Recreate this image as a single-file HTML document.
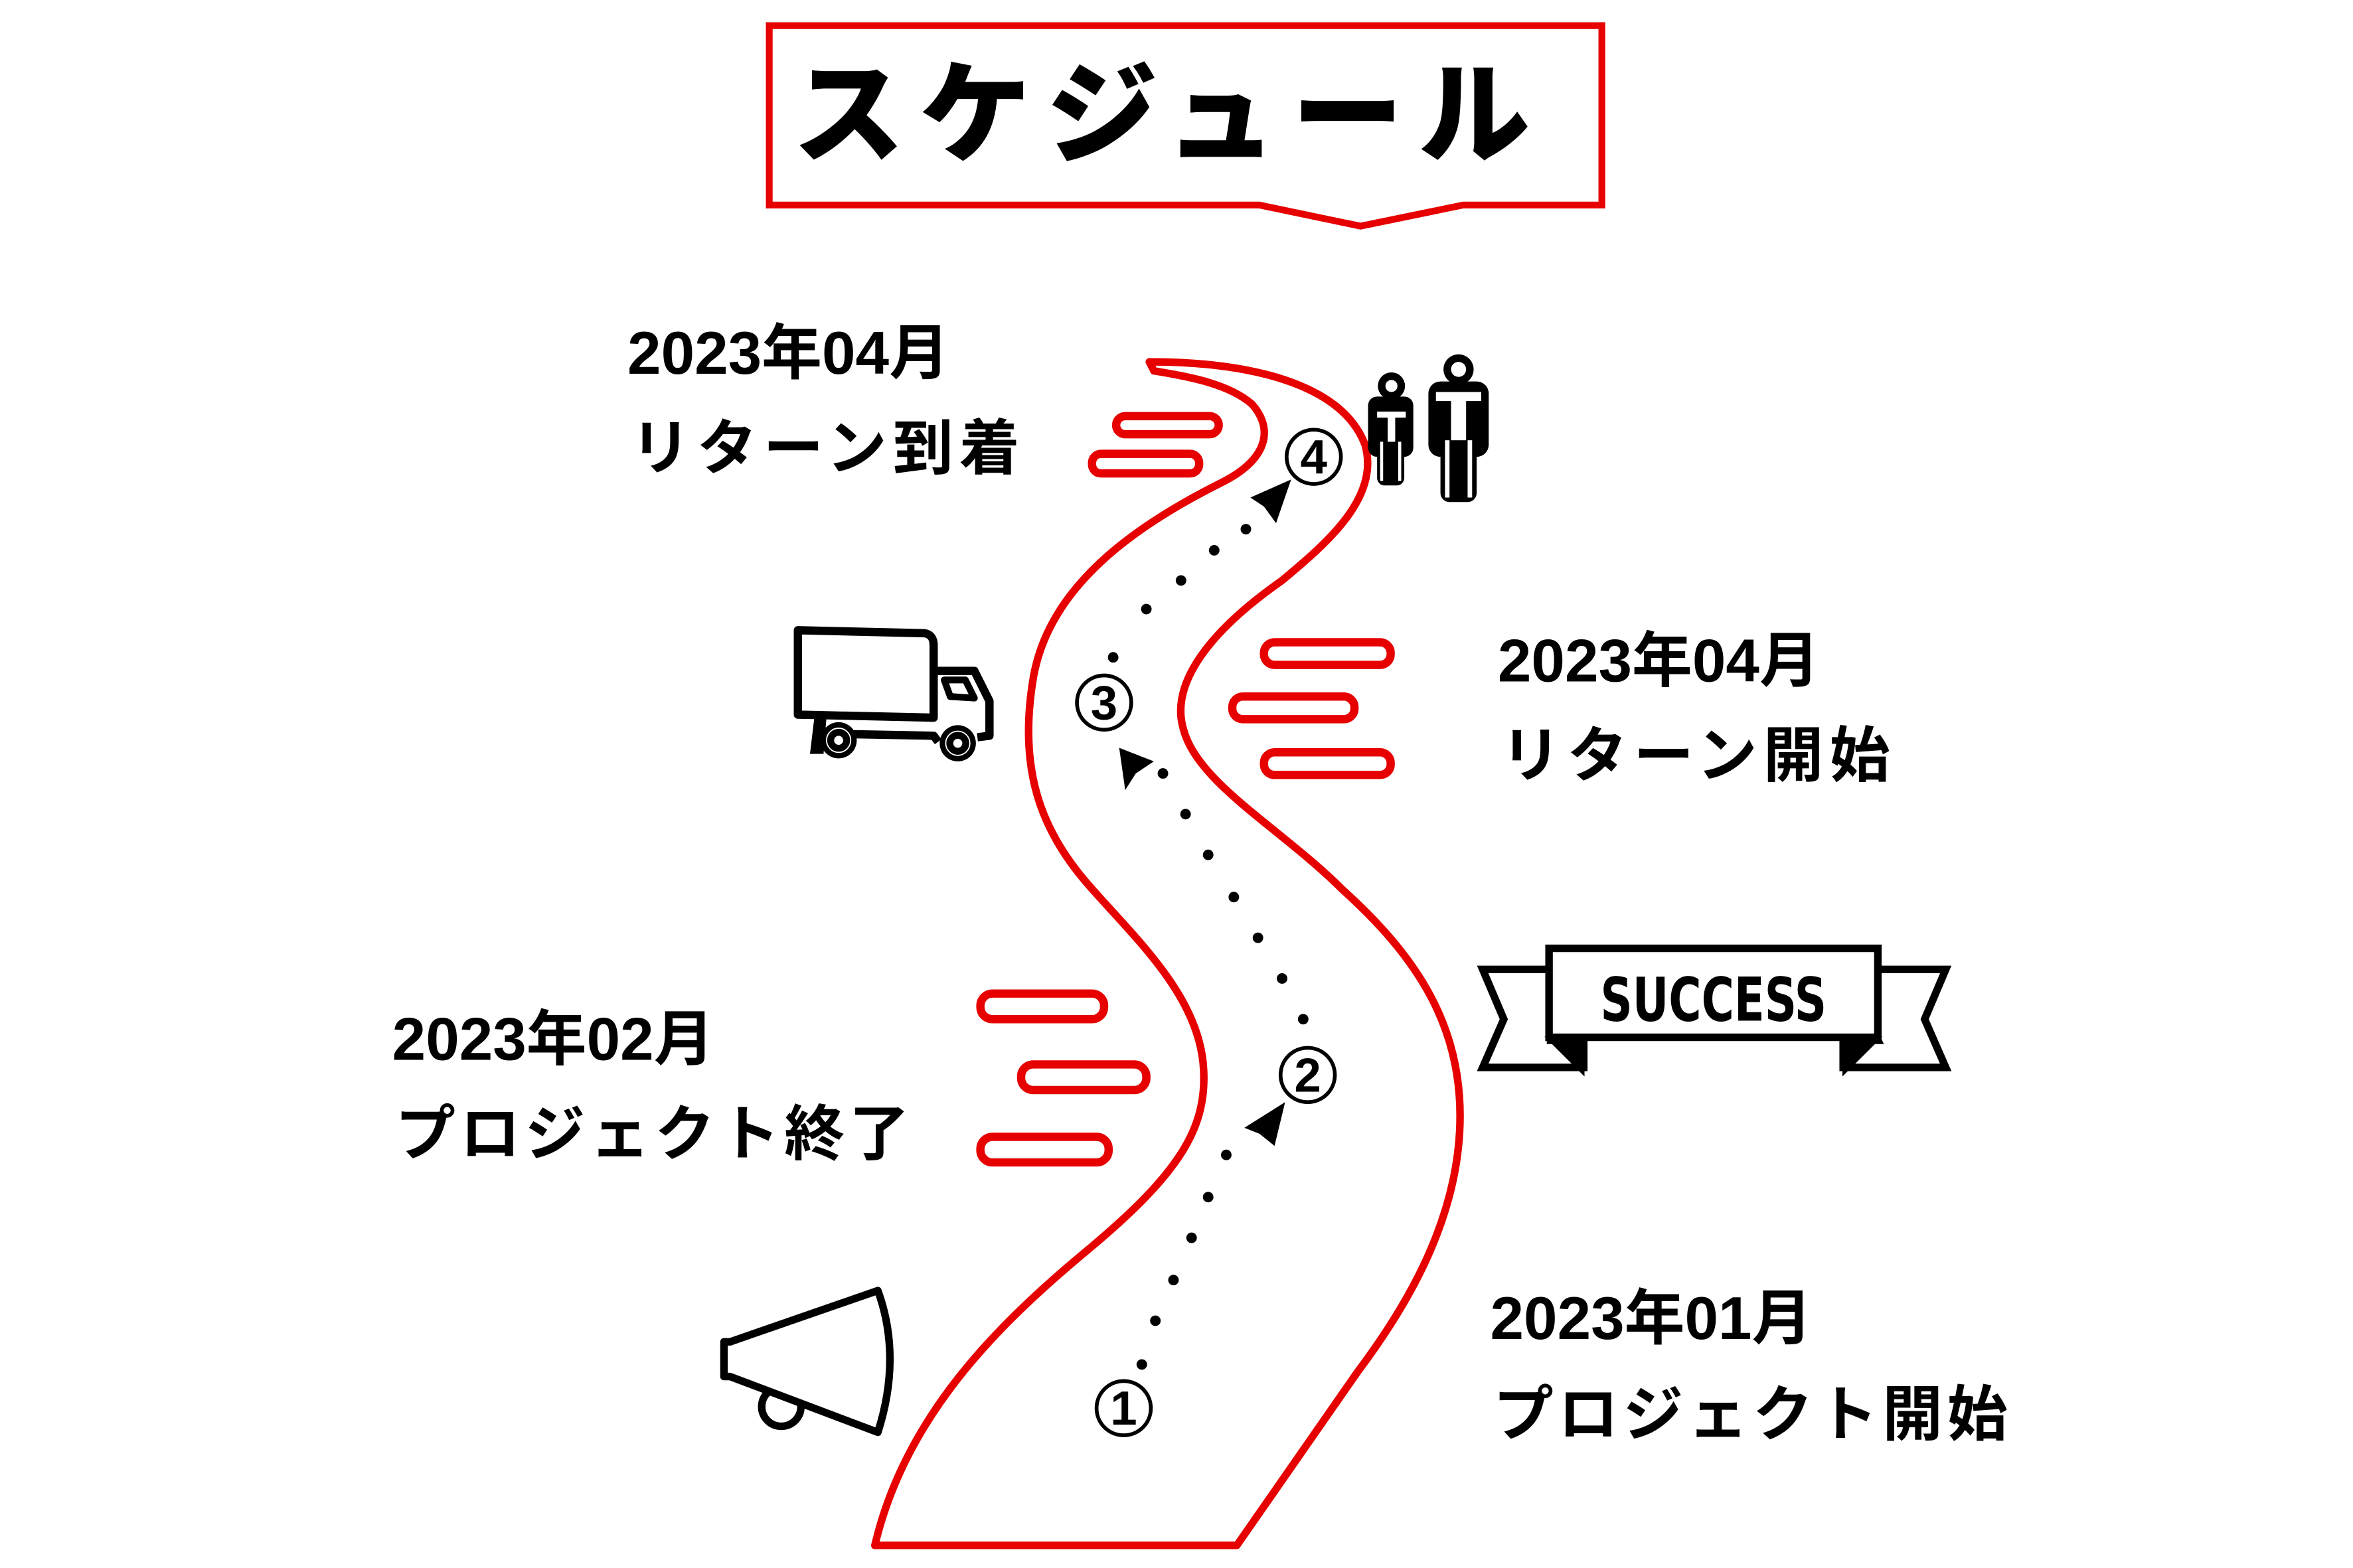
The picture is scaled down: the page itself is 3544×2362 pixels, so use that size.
<!DOCTYPE html>
<html><head><meta charset="utf-8"><style>
html,body{margin:0;padding:0;background:#fff;}
svg{display:block;}
.t{font-family:"Liberation Sans","Noto Sans CJK JP",sans-serif;font-weight:bold;fill:#000;}
</style></head><body>
<svg width="3544" height="2362" viewBox="0 0 1560 1040" preserveAspectRatio="none" xmlns="http://www.w3.org/2000/svg">
<rect width="1560" height="1040" fill="#fff"/>
<path d="M510,17 L1062,17 L1062,136 L970,136 L902,150 L835,136 L510,136 Z" fill="#fff" stroke="#e60000" stroke-width="4.5" stroke-linejoin="miter"/>
<text x="775" y="102" class="t" font-size="74" text-anchor="middle" letter-spacing="10" style="font-family:'Noto Sans CJK JP',sans-serif;font-weight:900">スケジュール</text>

<path d="M762,240 C830,240 890,255 905,295 C915,330 880,360 850,385 C800,420 775,455 785,485 C795,520 850,550 890,590 C940,635 968,680 968,740 C968,810 930,870 900,910 L820,1025 L580,1025 C600,940 660,880 720,830 C780,780 800,750 798,710 C796,660 750,620 720,585 C690,550 675,510 685,450 C695,390 750,350 810,320 C840,305 845,285 830,268 C815,255 790,250 765,246 Z" fill="#fff" stroke="#e60000" stroke-width="5" stroke-linejoin="round"/>

<g fill="#fff" stroke="#e60000" stroke-width="5.5">
<rect x="740" y="276" width="68" height="12" rx="6"/>
<rect x="724" y="301" width="71" height="13" rx="6"/>
<rect x="838" y="426" width="84" height="15" rx="7"/>
<rect x="817" y="462" width="81" height="15" rx="7"/>
<rect x="838" y="499" width="84" height="15" rx="7"/>
<rect x="650" y="659" width="82" height="17" rx="8"/>
<rect x="677" y="706" width="83" height="17" rx="8"/>
<rect x="650" y="754" width="85" height="17" rx="8"/>
</g>

<g fill="#000">
<circle cx="757" cy="905" r="3.5"/><circle cx="766" cy="876" r="3.5"/><circle cx="778" cy="849" r="3.5"/><circle cx="790" cy="821" r="3.5"/><circle cx="801" cy="794" r="3.5"/><circle cx="813" cy="766" r="3.5"/>
<path d="M852,731 L825,748 L835,752 L845,760 Z"/>
<circle cx="864" cy="676" r="3.5"/><circle cx="850" cy="649" r="3.5"/><circle cx="834" cy="622" r="3.5"/><circle cx="818" cy="595" r="3.5"/><circle cx="801" cy="567" r="3.5"/><circle cx="786" cy="540" r="3.5"/><circle cx="771" cy="513" r="3.5"/>
<path d="M742,496 L746,524 L753,513 L765,505 Z"/>
<circle cx="738" cy="436" r="3.5"/><circle cx="760" cy="404" r="3.5"/><circle cx="783" cy="385" r="3.5"/><circle cx="805" cy="365" r="3.5"/><circle cx="826" cy="351" r="3.5"/>
<path d="M856,318 L829,330 L838,336 L846,347 Z"/>
</g>

<g fill="#fff" stroke="#000" stroke-width="2.5">
<circle cx="745" cy="934" r="18"/><circle cx="867" cy="713" r="18"/><circle cx="732" cy="466" r="18"/><circle cx="871" cy="303" r="18"/>
</g>
<g class="t" font-size="32" text-anchor="middle">
<text x="745" y="945">1</text><text x="867" y="724">2</text><text x="732" y="477">3</text><text x="871" y="314">4</text>
</g>

<g class="t" font-size="40">
<text x="416" y="248">2023年04月</text>
<text x="418" y="311" letter-spacing="4">リターン到着</text>
<text x="993" y="452">2023年04月</text>
<text x="995" y="515" letter-spacing="4">リターン開始</text>
<text x="260" y="703">2023年02月</text>
<text x="262" y="766" letter-spacing="3">プロジェクト終了</text>
<text x="988" y="888">2023年01月</text>
<text x="990" y="952" letter-spacing="3">プロジェクト開始</text>
</g>

<g fill="#000">
<circle cx="922.5" cy="256" r="9"/>
<rect x="907" y="263" width="30" height="40" rx="6"/>
<rect x="913" y="285" width="18" height="37" rx="5"/>
<circle cx="967" cy="245" r="10"/>
<rect x="947" y="253" width="40" height="50" rx="8"/>
<rect x="955" y="285" width="24" height="48" rx="6"/>
</g>
<g fill="#fff">
<circle cx="922.5" cy="256" r="4"/>
<rect x="913" y="273" width="19" height="4"/><rect x="920" y="273" width="5" height="20"/>
<rect x="915" y="293" width="2" height="26"/><rect x="927" y="293" width="2" height="26"/>
<circle cx="967" cy="245" r="5"/>
<rect x="952" y="260" width="30" height="6"/><rect x="962" y="260" width="10" height="32"/>
<rect x="958" y="292" width="3" height="38"/><rect x="973" y="292" width="3" height="38"/>
</g>

<g fill="none" stroke="#000" stroke-width="5.5" stroke-linejoin="round">
<path d="M529,418 L613,420 Q619,421 619,428 L619,476 L529,474 Z"/>
<path d="M619,445 L646,445 L656,465 L656,488 L648,489"/>
<path d="M626,451 L640,451 L646,463 L630,462 Z" stroke-width="4.5"/>
<path d="M566,487 L619,488 L622,492"/>
</g>
<path d="M540,475 L548,475 L546,500 L537,500 Z" fill="#000"/>
<g fill="#000"><circle cx="556" cy="491" r="12"/><circle cx="635" cy="493" r="12"/></g>
<g fill="none" stroke="#fff" stroke-width="0.8"><circle cx="556" cy="491" r="8"/><circle cx="635" cy="493" r="8"/></g>
<g fill="#fff"><circle cx="556" cy="491" r="3"/><circle cx="635" cy="493" r="3"/></g>

<g fill="none" stroke="#000" stroke-width="5" stroke-linejoin="round">
<circle cx="518" cy="933" r="13"/>
<path d="M480,890 L484,890 L582,856 Q598,900 582,950 L484,913 L480,913 Z" fill="#fff"/>
</g>

<g fill="#fff" stroke="#000" stroke-width="5" stroke-linejoin="miter">
<path d="M1028,643 L983,643 L997,676 L983,708 L1050,708 L1050,690 L1028,690 Z"/>
<path d="M1222,643 L1290,643 L1276,676 L1290,708 L1222,708 L1222,690 L1245,690 Z"/>
<rect x="1027" y="629" width="218" height="59"/>
<path d="M1030,690 L1048,708 L1048,690 Z" fill="#000"/>
<path d="M1242,690 L1224,708 L1224,690 Z" fill="#000"/>
</g>
<text x="1136" y="677" class="t" font-size="40" text-anchor="middle" textLength="150" lengthAdjust="spacingAndGlyphs" style="font-family:'DejaVu Sans Condensed','Liberation Sans',sans-serif">SUCCESS</text>
</svg>
</body></html>
